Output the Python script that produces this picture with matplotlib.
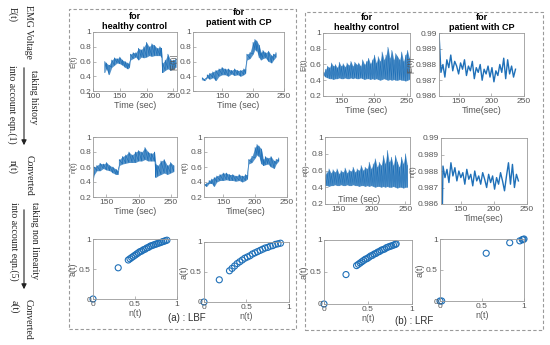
import numpy as np
import matplotlib
matplotlib.use('Agg')
import matplotlib.pyplot as plt
from matplotlib.patches import Rectangle, FancyArrowPatch

# ---------------- data ----------------
# LBF, healthy control, E(t)
lbf_h_E_t  = [122,125,130,135,140,145,150,155,160,165,168,170,175,180,185,190,195,200,205,210,215,220,225,228,230,235,240,245,250,255]
lbf_h_E_lo = [0.45,0.50,0.42,0.52,0.55,0.58,0.57,0.55,0.52,0.50,0.52,0.62,0.64,0.66,0.62,0.66,0.65,0.66,0.68,0.67,0.68,0.68,0.68,0.66,0.45,0.48,0.50,0.48,0.50,0.52]
lbf_h_E_hi = [0.60,0.58,0.55,0.62,0.65,0.64,0.66,0.62,0.60,0.58,0.57,0.70,0.72,0.72,0.78,0.76,0.80,0.86,0.80,0.84,0.82,0.78,0.80,0.78,0.58,0.62,0.70,0.62,0.62,0.64]
# LBF, patient with CP, E(t)
lbf_p_E_t  = [118,122,126,130,135,140,145,150,155,160,165,170,175,180,185,188,190,195,200,203,206,210,213,216,220,225,230,233,237]
lbf_p_E_lo = [0.35,0.34,0.38,0.36,0.38,0.34,0.40,0.42,0.42,0.40,0.43,0.41,0.42,0.40,0.42,0.44,0.62,0.64,0.70,0.76,0.74,0.65,0.62,0.64,0.65,0.60,0.58,0.62,0.66]
lbf_p_E_hi = [0.38,0.36,0.42,0.44,0.46,0.48,0.50,0.52,0.50,0.50,0.48,0.50,0.48,0.48,0.50,0.50,0.70,0.72,0.86,0.90,0.88,0.82,0.72,0.75,0.72,0.74,0.68,0.70,0.72]
# LBF, healthy control, n(t)
lbf_h_n_t  = [128,131,135,140,145,150,155,160,165,168,170,175,180,185,190,195,200,205,210,215,220,225,227,230,235,240,245,250,255]
lbf_h_n_lo = [0.38,0.50,0.55,0.55,0.58,0.56,0.55,0.52,0.50,0.50,0.62,0.64,0.65,0.66,0.66,0.66,0.68,0.68,0.70,0.68,0.68,0.68,0.46,0.48,0.50,0.52,0.50,0.52,0.54]
lbf_h_n_hi = [0.45,0.60,0.62,0.65,0.64,0.66,0.62,0.60,0.57,0.55,0.70,0.74,0.76,0.80,0.76,0.80,0.82,0.80,0.86,0.80,0.78,0.80,0.64,0.62,0.68,0.70,0.62,0.66,0.62]
# LBF, patient with CP, n(t)
lbf_p_n_t  = [120,124,128,132,136,140,145,150,155,160,165,170,175,180,185,188,190,195,200,203,206,210,213,216,220,225,230,233,237]
lbf_p_n_lo = [0.36,0.34,0.38,0.38,0.34,0.40,0.42,0.42,0.43,0.42,0.42,0.41,0.42,0.40,0.42,0.44,0.64,0.66,0.72,0.76,0.74,0.64,0.62,0.63,0.64,0.60,0.58,0.64,0.68]
lbf_p_n_hi = [0.38,0.38,0.42,0.44,0.46,0.48,0.50,0.52,0.52,0.50,0.50,0.48,0.50,0.48,0.50,0.50,0.70,0.74,0.86,0.90,0.88,0.84,0.70,0.74,0.72,0.74,0.68,0.70,0.72]
# LRF, healthy control, E(t)
lrf_h_E_t  = [122,125,128,131,134,137,140,143,146,149,152,155,158,161,164,167,170,173,176,179,182,185,188,191,194,197,200,203,206,209,212,215,218,221,224,227,230,233,236,239,242,245,248,251,254]
lrf_h_E_hi = [0.50,0.54,0.58,0.56,0.62,0.58,0.60,0.56,0.63,0.58,0.61,0.57,0.62,0.59,0.64,0.58,0.63,0.60,0.62,0.58,0.66,0.60,0.64,0.68,0.61,0.66,0.72,0.62,0.70,0.64,0.76,0.66,0.72,0.82,0.68,0.78,0.66,0.74,0.70,0.66,0.76,0.64,0.72,0.78,0.68]
lrf_h_E_lo = [0.46,0.44,0.43,0.42,0.42,0.41,0.42,0.42,0.43,0.42,0.42,0.43,0.42,0.42,0.43,0.42,0.43,0.42,0.42,0.43,0.42,0.41,0.42,0.42,0.41,0.42,0.41,0.42,0.41,0.40,0.41,0.42,0.41,0.40,0.41,0.40,0.41,0.40,0.40,0.41,0.40,0.40,0.39,0.40,0.41]
# LRF, healthy control, n(t)
lrf_h_n_t  = [130,133,136,139,142,145,148,151,154,157,160,163,166,169,172,175,178,181,184,187,190,193,196,199,202,205,208,211,214,217,220,223,226,229,232,235,238,241,244,247,250,253]
lrf_h_n_hi = [0.55,0.58,0.62,0.57,0.61,0.58,0.62,0.56,0.60,0.58,0.63,0.57,0.61,0.59,0.64,0.58,0.62,0.60,0.66,0.60,0.64,0.62,0.70,0.62,0.68,0.74,0.64,0.70,0.66,0.78,0.68,0.84,0.70,0.76,0.66,0.78,0.70,0.64,0.76,0.68,0.80,0.66]
lrf_h_n_lo = [0.42,0.42,0.41,0.42,0.42,0.43,0.42,0.42,0.43,0.42,0.42,0.43,0.42,0.42,0.43,0.42,0.42,0.41,0.42,0.42,0.41,0.42,0.41,0.42,0.41,0.40,0.41,0.41,0.40,0.41,0.40,0.41,0.40,0.40,0.41,0.40,0.39,0.40,0.40,0.39,0.40,0.40]
# LRF, patient with CP, E(t) and n(t)
lrf_p_t   = [120,123,126,129,132,135,138,141,144,147,150,153,156,159,162,165,168,171,174,177,
             180,183,186,189,192,195,198,201,204,207,210,213,216,219,222,225,228,231,234,237]
lrf_p_E   = [0.9900,0.9875,0.9880,0.9872,0.9883,0.9878,0.9886,0.9876,0.9882,0.9879,0.9874,0.9881,0.9877,0.9883,0.9873,0.9879,0.9876,0.9882,0.9871,0.9878,
             0.9875,0.9880,0.9870,0.9877,0.9874,0.9879,0.9872,0.9878,0.9869,0.9876,0.9873,0.9880,0.9875,0.9884,0.9871,0.9883,0.9874,0.9879,0.9872,0.9877]
lrf_p_nt  = [0.9800,0.9883,0.9876,0.9881,0.9873,0.9885,0.9877,0.9882,0.9874,0.9880,0.9876,0.9879,0.9872,0.9881,0.9875,0.9878,0.9871,0.9880,0.9874,0.9877,
             0.9872,0.9879,0.9875,0.9870,0.9878,0.9873,0.9877,0.9869,0.9876,0.9872,0.9879,0.9874,0.9868,0.9877,0.9885,0.9872,0.9884,0.9870,0.9878,0.9874]
# a(t) vs n(t)
sc_lbf_h_n = [0, 0.30, 0.42,0.44,0.46,0.48,0.50,0.52,0.54,0.56,0.58,0.60,0.62,0.64,0.66,0.68,0.70,0.72,0.74,0.76,0.78,0.80,0.82,0.84,0.86,0.88]
sc_lbf_h_a = [0, 0.52, 0.65,0.67,0.69,0.71,0.73,0.75,0.77,0.79,0.80,0.82,0.83,0.85,0.86,0.88,0.89,0.90,0.91,0.92,0.93,0.94,0.95,0.96,0.97,0.98]
sc_lbf_p_n = [0, 0.18, 0.30,0.33,0.36,0.39,0.42,0.45,0.48,0.51,0.54,0.57,0.60,0.63,0.66,0.69,0.72,0.75,0.78,0.81,0.84,0.87,0.90]
sc_lbf_p_a = [0, 0.37, 0.52,0.56,0.60,0.64,0.67,0.70,0.73,0.75,0.77,0.80,0.82,0.84,0.86,0.88,0.90,0.91,0.93,0.94,0.96,0.97,0.98]
sc_lrf_h_n = [0, 0.25, 0.37,0.39,0.41,0.43,0.45,0.47,0.49,0.51,0.53,0.55,0.57,0.59,0.61,0.63,0.65,0.67,0.69,0.71,0.73,0.75,0.77,0.79,0.81,0.82]
sc_lrf_h_a = [0, 0.46, 0.60,0.62,0.64,0.66,0.68,0.70,0.71,0.73,0.75,0.76,0.78,0.79,0.81,0.82,0.84,0.85,0.86,0.88,0.89,0.90,0.91,0.92,0.93,0.94]
sc_lrf_p_n = [0, 0.02, 0.55, 0.83, 0.95, 0.98, 0.99, 1.0]
sc_lrf_p_a = [0, 0.0, 0.77, 0.94, 0.97, 0.99, 0.99, 1.0]

# ---------------- drawing ----------------
W, H = 550, 345
BLUE = '#1f70b8'
SANS = ['Liberation Sans Narrow', 'Liberation Sans', 'DejaVu Sans']
plt.rcParams['font.family'] = SANS
fig = plt.figure(figsize=(W/100, H/100), dpi=100)
fig.patch.set_facecolor('white')
GREY = '#555555'

def ax_px(l, t, r, b):
    return fig.add_axes([l/W, 1-b/H, (r-l)/W, (b-t)/H])

def style(ax):
    for s in ax.spines.values():
        s.set_color('#9a9a9a'); s.set_linewidth(0.6)
    ax.tick_params(direction='in', length=2, width=0.5, labelsize=6,
                   labelcolor=GREY, color='#9a9a9a', pad=1.5)

def band(ax, t, lo, hi, lw=0.5):
    t = np.asarray(t); lo = np.asarray(lo); hi = np.asarray(hi)
    ax.fill_between(t, lo, hi, color=BLUE, alpha=0.75, lw=0)
    ax.plot(np.repeat(t, 2), np.column_stack([lo, hi]).ravel(), color=BLUE, lw=lw)

def ts_axes(box, xlim, ylab, xlab, ticks=(150, 200, 250)):
    ax = ax_px(*box)
    style(ax)
    ax.set_xlim(*xlim); ax.set_ylim(0.2, 1)
    ax.set_xticks([t for t in ticks if xlim[0] <= t <= xlim[1]])
    ax.set_yticks([0.2, 0.4, 0.6, 0.8, 1.0])
    ax.set_yticklabels(['0.2', '0.4', '0.6', '0.8', '1'])
    ax.set_ylabel(ylab, fontsize=5.5, color=GREY, labelpad=1)
    ax.set_xlabel(xlab, fontsize=6.5, color=GREY, labelpad=1)
    return ax

def cp_axes(box, ylab, xlab):
    ax = ax_px(*box)
    style(ax)
    ax.set_xlim(120, 250); ax.set_ylim(0.986, 0.99)
    ax.set_xticks([150, 200, 250])
    ax.set_yticks([0.986, 0.987, 0.988, 0.989, 0.99])
    ax.set_yticklabels(['0.986', '0.987', '0.988', '0.989', '0.99'])
    ax.set_ylabel(ylab, fontsize=5.5, color=GREY, labelpad=1)
    ax.set_xlabel(xlab, fontsize=6.5, color=GREY, labelpad=1)
    return ax

def sc_axes(box, n, a):
    ax = ax_px(*box)
    style(ax)
    ax.scatter(n, a, s=19, facecolors='none', edgecolors=BLUE, linewidths=0.8, clip_on=False)
    ax.set_xlim(0, 1); ax.set_ylim(0, 1)
    ax.set_xticks([0, 0.5, 1]); ax.set_xticklabels(['0', '0.5', '1'])
    ax.set_yticks([0, 0.5, 1]); ax.set_yticklabels(['0', '0.5', '1'])
    ax.set_xlabel('n(t)', fontsize=6.5, color=GREY, labelpad=1)
    ax.set_ylabel('a(t)', fontsize=6.5, color=GREY, labelpad=1)
    return ax

TKW = dict(fontsize=6.5, fontweight='bold', linespacing=1.15)
# Row 1
ax = ts_axes((93, 32, 177, 91), (100, 257), 'E(t)', 'Time (sec)', ticks=(100, 150, 200, 250))
band(ax, lbf_h_E_t, lbf_h_E_lo, lbf_h_E_hi)
ax.set_title('for\nhealthy control', pad=2, **TKW)
ax = ts_axes((193, 32, 284, 91), (103, 250), '|E(t)|', 'Time (sec)')
band(ax, lbf_p_E_t, lbf_p_E_lo, lbf_p_E_hi)
ax.set_title('for\npatient with CP', pad=5, **TKW)
ax = ts_axes((323, 33, 410, 96), (121, 255), 'E(t)', 'Time (sec)')
band(ax, lrf_h_E_t, lrf_h_E_lo, lrf_h_E_hi, lw=0.4)
ax.set_title('for\nhealthy control', pad=2, **TKW)
ax = cp_axes((439, 33, 524, 96), '|E(t)|', 'Time(sec)')
ax.plot(lrf_p_t, lrf_p_E, color=BLUE, lw=1.0)
ax.set_title('for\npatient with CP', pad=2, **TKW)

# Row 2
ax = ts_axes((93, 137, 177, 197), (129, 260), 'n(t)', 'Time (sec)')
band(ax, lbf_h_n_t, lbf_h_n_lo, lbf_h_n_hi)
ax = ts_axes((204, 137, 287, 197), (120, 250), 'n(t)', 'Time(sec)')
band(ax, lbf_p_n_t, lbf_p_n_lo, lbf_p_n_hi)
ax = ts_axes((325, 137, 410, 204), (130, 257), 'n(t)', '')
band(ax, lrf_h_n_t, lrf_h_n_lo, lrf_h_n_hi, lw=0.4)
ax.text(0.4, 0.0, 'Time (sec)', transform=ax.transAxes, ha='center', va='bottom',
        fontsize=6.5, color=GREY)
ax = cp_axes((441, 138, 527, 204), 'n(t)', 'Time(sec)')
ax.plot(lrf_p_t, lrf_p_nt, color=BLUE, lw=1.0)

# Row 3
sc_axes((93, 239, 177, 299), sc_lbf_h_n, sc_lbf_h_a)
sc_axes((204, 242, 289, 302), sc_lbf_p_n, sc_lbf_p_a)
sc_axes((324, 240, 412, 304), sc_lrf_h_n, sc_lrf_h_a)
sc_axes((440, 239, 524, 301), sc_lrf_p_n, sc_lrf_p_a)

fig.text(187/W, 1-318/H, '(a) : LBF', fontsize=7, color='#303030', ha='center', va='center')
fig.text(414/W, 1-321/H, '(b) : LRF', fontsize=7, color='#303030', ha='center', va='center')

# dashed boxes
for (l, t, r, b) in [(69, 9, 296, 329), (305, 12, 543, 330)]:
    fig.patches.append(Rectangle((l/W, 1-b/H), (r-l)/W, (b-t)/H, transform=fig.transFigure,
                                 fill=False, ec='#9a9a9a', lw=0.8, ls=(0, (3, 2))))

# left annotation column
SERIF = ['Liberation Serif', 'DejaVu Serif']
def vtext(x, y, s, **kw):
    fig.text(x/W, 1-y/H, s, rotation=270, ha='center', va='top', fontsize=7,
             family=SERIF, color='#222222', **kw)

vtext(28, 5, 'EMG Voltage')
vtext(12, 7, 'E(t)')
vtext(33, 70, 'taking history')
vtext(12, 65, 'into account eqn.(1)')
vtext(29, 155, 'Converted')
vtext(13, 160, 'n(t)')
vtext(35, 202, 'taking non linearity')
vtext(14, 202, 'into account eqn.(5)')
vtext(28, 299, 'Converted')
vtext(14, 300, 'a(t)')

for (y0, y1) in [(65, 148), (207, 292)]:
    fig.patches.append(FancyArrowPatch((24/W, 1-y0/H), (24/W, 1-y1/H), transform=fig.transFigure,
                                       arrowstyle='-|>,head_length=3,head_width=1.5',
                                       color='#222222', lw=0.8, mutation_scale=1))

fig.savefig('out.png', dpi=100, facecolor='white')
